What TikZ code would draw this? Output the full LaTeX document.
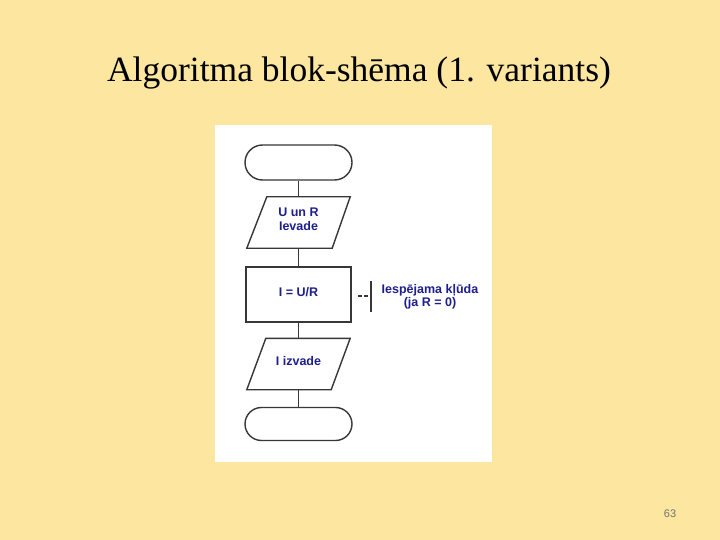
\documentclass[tikz,border=0pt]{standalone}
\usepackage{fontspec}
\setmainfont{Liberation Serif}
\newfontfamily\arialf{Liberation Sans}
\usetikzlibrary{shapes.misc}
\definecolor{bgc}{RGB}{252,230,160}
\definecolor{txtblue}{RGB}{30,30,140}
\definecolor{linec}{RGB}{55,55,55}
\tikzset{
  fc/.style={draw=linec, line width=1.4pt, fill=white, font=\arialf\bfseries\fontsize{12.5}{14}\selectfont, text=txtblue, align=center},
  term/.style={fc, rounded rectangle, minimum width=107pt, minimum height=35pt, inner sep=0pt},
  proc/.style={fc, rectangle, minimum width=105pt, minimum height=55pt, inner sep=0pt},
  io/.style={font=\arialf\bfseries\fontsize{12.5}{14}\selectfont, text=txtblue, align=center, rectangle, minimum width=103pt, minimum height=51pt, inner sep=0pt},
  para/.style={draw=linec, line width=1.4pt, fill=white, line join=miter},
  conn/.style={draw=linec, line width=1.4pt},
}
\begin{document}
\begin{tikzpicture}[x=1pt,y=-1pt]
\path[fill=bgc] (0,0) rectangle (720,540);
\useasboundingbox (0,0) rectangle (720,540);
\node[font=\fontsize{35.5}{40}\selectfont] (title) at (359,73) {Algoritma blok-shēma (1. variants)};
\node[font=\arialf\fontsize{11}{12}\selectfont, text=black!55] (pg) at (670,514) {63};
\path[fill=white] (215,125) rectangle (492,462);
\node[term] (t1) at (298.5,162.5) {};
\node[io] (in) at (298.5,222.5) {};
\draw[para] ([xshift=20pt]in.north west) -- (in.north east) -- ([xshift=-18pt]in.south east) -- (in.south west) -- cycle;
\node[io, yshift=3pt] at (in) {U un R\\Ievade};
\node[proc] (p) at (298.5,294.5) {\raisebox{6pt}{I = U/R}};
\node[io] (out) at (298.5,364) {};
\draw[para] ([xshift=19pt]out.north west) -- (out.north east) -- ([xshift=-19pt]out.south east) -- (out.south west) -- cycle;
\node[io, yshift=3pt] at (out) {I izvade};
\node[term, minimum height=33pt] (t2) at (298.5,424) {};
\draw[conn] (t1) -- (in);
\draw[conn] (in) -- (p);
\draw[conn] (p) -- (out);
\draw[conn] (out) -- (t2);
\coordinate (d1) at (358,296);
\coordinate (d2) at (368,296);
\coordinate (b1) at (371,281);
\coordinate (b2) at (371,312);
\draw[conn, line width=1.1pt, dash pattern=on 3.5pt off 2.5pt] (d1) -- (d2);
\draw[conn, line width=1.1pt] (b1) -- (b2);
\node[font=\arialf\bfseries\fontsize{12.5}{13}\selectfont, text=txtblue, align=center] (note) at (430,297) {Iespējama kļūda\\(ja R = 0)};
\end{tikzpicture}
\end{document}
